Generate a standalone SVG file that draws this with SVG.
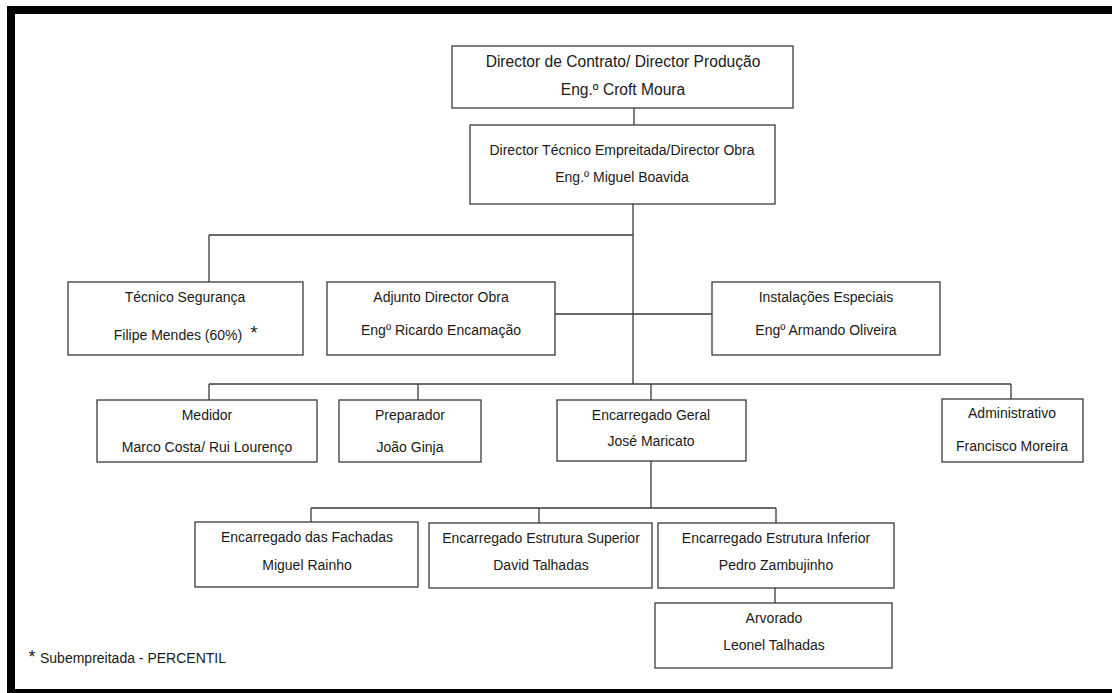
<svg xmlns="http://www.w3.org/2000/svg" width="1112" height="693" viewBox="0 0 1112 693">
<style>
.b{fill:#fff;stroke:#3a3a3a;stroke-width:1.3}
.t{font-family:"Liberation Sans",Arial,sans-serif;font-size:14px;fill:#1a1a1a;text-anchor:middle}
.tl{font-size:15.6px}
.s{font-size:18px}
.c{fill:none;stroke:#3a3a3a;stroke-width:1.3}
</style>
<rect x="0" y="0" width="1112" height="693" fill="#fff"/>
<rect x="7" y="6" width="1105" height="8" fill="#000"/>
<rect x="7" y="6" width="8" height="687" fill="#000"/>
<rect x="7" y="689" width="1105" height="4" fill="#000"/>
<g id="connectors">
<path class="c" d="M634 108V125M633 204V384M209 235H633M209 235V282M555 314H712M209 384H1011M209 384V400M418 384V400M651 384V400M1011 384V399M651 461V508M311 508H776M311 508V522M539 508V523M776 508V523M775 588V603"/>
</g>
<g id="n1"><rect class="b" x="452" y="46" width="341" height="62"/><text class="t tl" x="623" y="67">Director de Contrato/ Director Produção</text><text class="t tl" x="623" y="95">Eng.º Croft Moura</text></g>
<g id="n2"><rect class="b" x="470" y="125" width="305" height="79"/><text class="t" x="622" y="155">Director Técnico Empreitada/Director Obra</text><text class="t" x="622" y="182">Eng.º Miguel Boavida</text></g>
<g id="n3"><rect class="b" x="68" y="282" width="235" height="73"/><text class="t" x="185" y="302">Técnico Segurança</text><text class="t" x="178" y="340">Filipe Mendes (60%)</text><text class="t s" x="254" y="339">*</text></g>
<g id="n4"><rect class="b" x="327" y="282" width="228" height="73"/><text class="t" x="441" y="302">Adjunto Director Obra</text><text class="t" x="441" y="335">Engº Ricardo Encamação</text></g>
<g id="n5"><rect class="b" x="712" y="282" width="228" height="73"/><text class="t" x="826" y="302">Instalações Especiais</text><text class="t" x="826" y="335">Engº Armando Oliveira</text></g>
<g id="n6"><rect class="b" x="97" y="400" width="220" height="62"/><text class="t" x="207" y="420">Medidor</text><text class="t" x="207" y="452">Marco Costa/ Rui Lourenço</text></g>
<g id="n7"><rect class="b" x="339" y="400" width="142" height="62"/><text class="t" x="410" y="420">Preparador</text><text class="t" x="410" y="452">João Ginja</text></g>
<g id="n8"><rect class="b" x="557" y="400" width="189" height="61"/><text class="t" x="651" y="420">Encarregado Geral</text><text class="t" x="651" y="446">José Maricato</text></g>
<g id="n9"><rect class="b" x="942" y="399" width="141" height="63"/><text class="t" x="1012" y="418">Administrativo</text><text class="t" x="1012" y="451">Francisco Moreira</text></g>
<g id="n10"><rect class="b" x="195" y="522" width="223" height="65"/><text class="t" x="307" y="542">Encarregado das Fachadas</text><text class="t" x="307" y="570">Miguel Rainho</text></g>
<g id="n11"><rect class="b" x="429" y="523" width="223" height="65"/><text class="t" x="541" y="543">Encarregado Estrutura Superior</text><text class="t" x="541" y="570">David Talhadas</text></g>
<g id="n12"><rect class="b" x="658" y="523" width="236" height="65"/><text class="t" x="776" y="543">Encarregado Estrutura Inferior</text><text class="t" x="776" y="570">Pedro Zambujinho</text></g>
<g id="n13"><rect class="b" x="655" y="603" width="237" height="65"/><text class="t" x="774" y="623">Arvorado</text><text class="t" x="774" y="650">Leonel Talhadas</text></g>
<text class="t s" x="32" y="663">*</text>
<text class="t" x="40" y="663" style="text-anchor:start">Subempreitada - PERCENTIL</text>
</svg>
